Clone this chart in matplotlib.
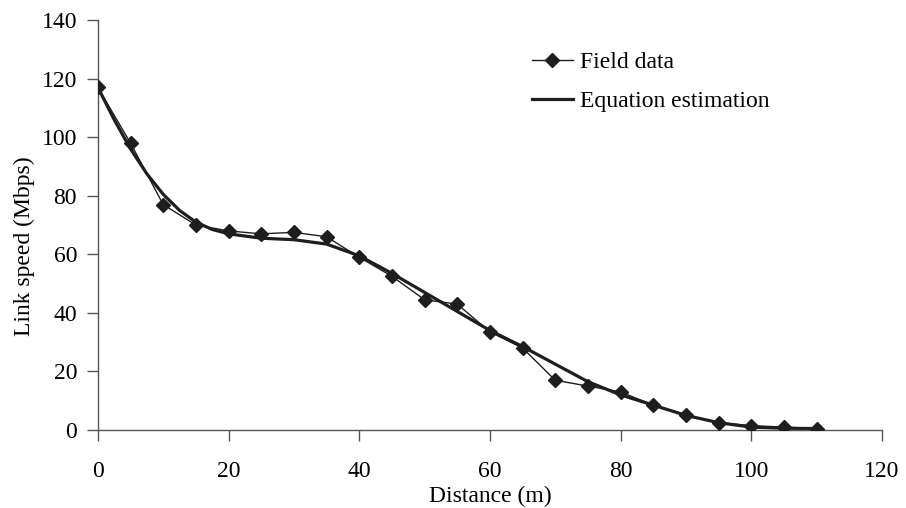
import matplotlib.pyplot as plt

plt.rcParams["font.family"] = ["Liberation Serif", "DejaVu Serif"]

# field measurements
distance = [0, 5, 10, 15, 20, 25, 30, 35, 40, 45, 50, 55,
            60, 65, 70, 75, 80, 85, 90, 95, 100, 105, 110]
field_speed = [117, 98, 77, 70, 68, 67, 67.5, 66, 59, 52.5, 44.5, 43,
               33.5, 28, 17, 15, 13, 8.5, 5, 2.5, 1.5, 1, 0.5]

# equation curve
eq_distance = [0, 2.5, 5, 7.5, 10, 12.5, 15, 17.5, 20, 25, 30, 35, 40,
               45, 50, 55, 60, 65, 70, 75, 80, 85, 90, 95, 100, 105, 110]
eq_speed = [117, 106, 96, 87.5, 80.5, 75, 71, 68.5, 67, 65.5, 65, 63.5, 59.5,
            53.5, 47, 40.5, 34, 28.5, 22.5, 16.5, 12, 8.5, 5, 2.5, 1, 0.6, 0.5]

FS = 17

fig = plt.figure(figsize=(9.06, 5.08), dpi=100)
ax = fig.add_axes([0.108, 0.1535, 0.8655, 0.807])

ax.plot(eq_distance, eq_speed, color="#1e1e1e", lw=2.3,
        label="Equation estimation", zorder=2)
ax.plot(distance, field_speed, color="#1e1e1e", lw=1.0, marker="D",
        markersize=7, label="Field data", zorder=3)

ax.set_xlim(0, 120)
ax.set_ylim(0, 140)
ax.set_xticks(range(0, 121, 20))
ax.set_yticks(range(0, 141, 20))

for s in ["top", "right"]:
    ax.spines[s].set_visible(False)
for s in ["left", "bottom"]:
    ax.spines[s].set_color("#555555")
    ax.spines[s].set_linewidth(1.0)

ax.tick_params(axis="x", direction="out", length=8, width=1, color="#555555",
               pad=14.5, labelsize=FS)
ax.tick_params(axis="y", direction="out", length=8, width=1, color="#555555",
               pad=7, labelsize=FS)

ax.set_xlabel("Distance (m)", fontsize=FS, labelpad=2.5)
ax.set_ylabel("Link speed (Mbps)", fontsize=FS, labelpad=5, y=0.449)

handles, labels = ax.get_legend_handles_labels()
ax.legend(handles[::-1], labels[::-1], loc="upper left",
          bbox_to_anchor=(0.5536, 0.923), frameon=False, fontsize=FS,
          borderpad=0, borderaxespad=0,
          handlelength=1.74, handletextpad=0.3, labelspacing=0.74)

fig.savefig("out.png", dpi=100)
